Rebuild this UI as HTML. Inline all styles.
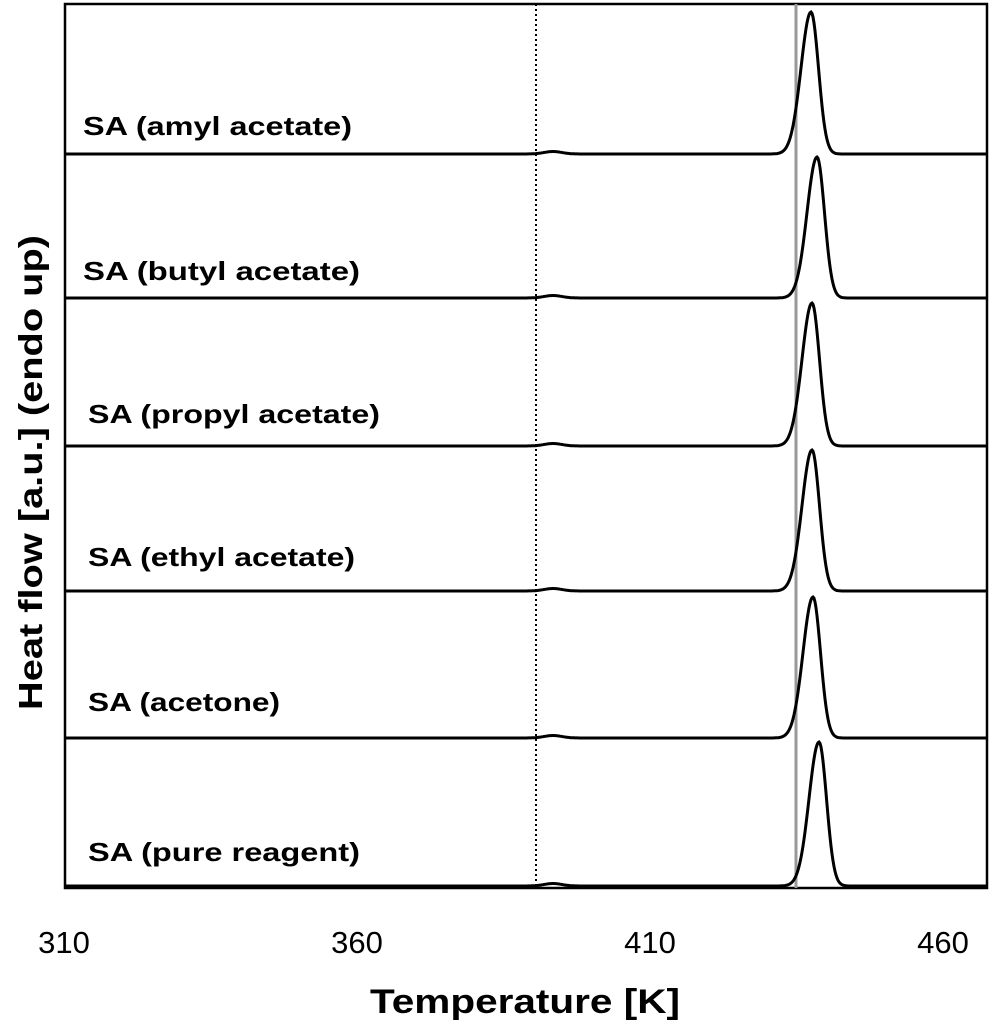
<!DOCTYPE html>
<html><head><style>body{margin:0;background:#fff}svg{display:block}</style></head>
<body>
<svg id="s" width="992" height="1031" xmlns="http://www.w3.org/2000/svg" font-family="Liberation Sans, sans-serif">
<rect x="65" y="4" width="922" height="884" fill="none" stroke="#000" stroke-width="2.5"/>
<line x1="536" y1="4" x2="536" y2="888" stroke="#000" stroke-width="2" stroke-dasharray="2,3"/>
<line x1="796" y1="4" x2="796" y2="888" stroke="#999" stroke-width="3"/>
<g id="curves" fill="none" stroke="#000" stroke-width="3"></g>
<g font-size="26" font-weight="bold" lengthAdjust="spacingAndGlyphs">
<text x="83" y="135" textLength="269" lengthAdjust="spacingAndGlyphs">SA (amyl acetate)</text>
<text x="83" y="280" textLength="277" lengthAdjust="spacingAndGlyphs">SA (butyl acetate)</text>
<text x="88" y="423" textLength="292" lengthAdjust="spacingAndGlyphs">SA (propyl acetate)</text>
<text x="88" y="566" textLength="267" lengthAdjust="spacingAndGlyphs">SA (ethyl acetate)</text>
<text x="88" y="711" textLength="192" lengthAdjust="spacingAndGlyphs">SA (acetone)</text>
<text x="88" y="861" textLength="272" lengthAdjust="spacingAndGlyphs">SA (pure reagent)</text>
</g>
<g font-size="31" text-anchor="middle">
<text x="64" y="953">310</text>
<text x="357" y="953">360</text>
<text x="650" y="953">410</text>
<text x="943" y="953">460</text>
</g>
<text x="370" y="1013" font-size="34" font-weight="bold" textLength="310" lengthAdjust="spacingAndGlyphs">Temperature [K]</text>
<text transform="translate(42,710) rotate(-90)" font-size="33" font-weight="bold" textLength="475" lengthAdjust="spacingAndGlyphs">Heat flow [a.u.] (endo up)</text>
</svg>
<script>
var series=[[154,811,142],[298,817,141],[446,812,143],[591,812,141],[738,813,141],[886,819,144]];
var g=document.getElementById('curves'),ns='http://www.w3.org/2000/svg';
series.forEach(function(s){
 var b=s[0],c=s[1],h=s[2],d='';
 for(var x=66;x<=986;x+=1){
  var sg=x<c?10:7.5;
  var y=b-h*Math.exp(-Math.pow((x-c)/sg,2)/2)-2.5*Math.exp(-Math.pow((x-553)/9,2)/2);
  d+=(x==66?'M':'L')+x+' '+y.toFixed(1);
 }
 var p=document.createElementNS(ns,'path');p.setAttribute('d',d);g.appendChild(p);
});
</script>
</body></html>
